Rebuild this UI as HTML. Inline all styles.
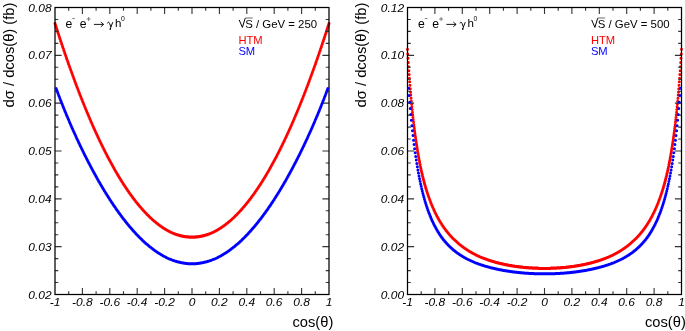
<!DOCTYPE html>
<html><head><meta charset="utf-8"><style>
html,body{margin:0;padding:0;background:#fff;}
body{width:685px;height:331px;overflow:hidden;}
svg{display:block;will-change:transform;}
text{font-family:"Liberation Sans",sans-serif;}
</style></head><body>
<svg width="685" height="331" viewBox="0 0 685 331">
<rect width="685" height="331" fill="#fff"/>
<path d="M55.00 23.41h0M55.27 24.27h0M55.55 25.13h0M55.82 25.99h0M56.10 26.85h0M56.37 27.71h0M56.64 28.57h0M56.92 29.42h0M57.19 30.27h0M57.47 31.12h0M57.74 31.97h0M58.01 32.82h0M58.29 33.66h0M58.56 34.50h0M58.84 35.34h0M59.11 36.18h0M59.38 37.02h0M59.66 37.86h0M59.93 38.69h0M60.21 39.52h0M60.48 40.35h0M60.75 41.18h0M61.03 42.01h0M61.30 42.83h0M61.58 43.66h0M61.85 44.48h0M62.12 45.30h0M62.40 46.11h0M62.67 46.93h0M62.95 47.74h0M63.22 48.56h0M63.49 49.37h0M63.77 50.17h0M64.04 50.98h0M64.32 51.79h0M64.59 52.59h0M64.86 53.39h0M65.14 54.19h0M65.41 54.99h0M65.69 55.78h0M65.96 56.58h0M66.23 57.37h0M66.51 58.16h0M66.78 58.95h0M67.06 59.74h0M67.33 60.52h0M67.60 61.31h0M67.88 62.09h0M68.15 62.87h0M68.43 63.65h0M68.70 64.42h0M68.97 65.20h0M69.25 65.97h0M69.52 66.74h0M69.80 67.51h0M70.07 68.28h0M70.34 69.04h0M70.62 69.81h0M70.89 70.57h0M71.17 71.33h0M71.44 72.09h0M71.71 72.84h0M71.99 73.60h0M72.26 74.35h0M72.54 75.10h0M72.81 75.85h0M73.08 76.60h0M73.36 77.35h0M73.63 78.09h0M73.91 78.83h0M74.18 79.57h0M74.45 80.31h0M74.73 81.05h0M75.00 81.78h0M75.28 82.52h0M75.55 83.25h0M75.82 83.98h0M76.10 84.71h0M76.37 85.43h0M76.65 86.16h0M76.92 86.88h0M77.19 87.60h0M77.47 88.32h0M77.74 89.04h0M78.02 89.75h0M78.29 90.47h0M78.56 91.18h0M78.84 91.89h0M79.11 92.60h0M79.39 93.31h0M79.66 94.01h0M79.93 94.71h0M80.21 95.42h0M80.48 96.12h0M80.76 96.81h0M81.03 97.51h0M81.30 98.20h0M81.58 98.90h0M81.85 99.59h0M82.13 100.28h0M82.40 100.96h0M82.67 101.65h0M82.95 102.33h0M83.22 103.02h0M83.50 103.70h0M83.77 104.37h0M84.04 105.05h0M84.32 105.73h0M84.59 106.40h0M84.87 107.07h0M85.14 107.74h0M85.41 108.41h0M85.69 109.07h0M85.96 109.74h0M86.24 110.40h0M86.51 111.06h0M86.78 111.72h0M87.06 112.38h0M87.33 113.03h0M87.61 113.69h0M87.88 114.34h0M88.15 114.99h0M88.43 115.64h0M88.70 116.29h0M88.98 116.93h0M89.25 117.57h0M89.52 118.22h0M89.80 118.86h0M90.07 119.49h0M90.35 120.13h0M90.62 120.76h0M90.89 121.40h0M91.17 122.03h0M91.44 122.66h0M91.72 123.28h0M91.99 123.91h0M92.26 124.53h0M92.54 125.16h0M92.81 125.78h0M93.09 126.40h0M93.36 127.01h0M93.63 127.63h0M93.91 128.24h0M94.18 128.85h0M94.46 129.46h0M94.73 130.07h0M95.00 130.68h0M95.28 131.28h0M95.55 131.89h0M95.83 132.49h0M96.10 133.09h0M96.37 133.68h0M96.65 134.28h0M96.92 134.87h0M97.20 135.47h0M97.47 136.06h0M97.74 136.65h0M98.02 137.23h0M98.29 137.82h0M98.57 138.40h0M98.84 138.98h0M99.11 139.56h0M99.39 140.14h0M99.66 140.72h0M99.94 141.29h0M100.21 141.87h0M100.48 142.44h0M100.76 143.01h0M101.03 143.58h0M101.31 144.14h0M101.58 144.71h0M101.85 145.27h0M102.13 145.83h0M102.40 146.39h0M102.68 146.95h0M102.95 147.50h0M103.22 148.06h0M103.50 148.61h0M103.77 149.16h0M104.05 149.71h0M104.32 150.26h0M104.59 150.80h0M104.87 151.35h0M105.14 151.89h0M105.42 152.43h0M105.69 152.97h0M105.96 153.50h0M106.24 154.04h0M106.51 154.57h0M106.79 155.10h0M107.06 155.63h0M107.33 156.16h0M107.61 156.69h0M107.88 157.21h0M108.16 157.73h0M108.43 158.25h0M108.70 158.77h0M108.98 159.29h0M109.25 159.81h0M109.53 160.32h0M109.80 160.83h0M110.07 161.34h0M110.35 161.85h0M110.62 162.36h0M110.90 162.86h0M111.17 163.37h0M111.44 163.87h0M111.72 164.37h0M111.99 164.87h0M112.27 165.37h0M112.54 165.86h0M112.81 166.35h0M113.09 166.85h0M113.36 167.33h0M113.64 167.82h0M113.91 168.31h0M114.18 168.79h0M114.46 169.28h0M114.73 169.76h0M115.01 170.24h0M115.28 170.71h0M115.55 171.19h0M115.83 171.67h0M116.10 172.14h0M116.38 172.61h0M116.65 173.08h0M116.92 173.54h0M117.20 174.01h0M117.47 174.47h0M117.75 174.94h0M118.02 175.40h0M118.29 175.86h0M118.57 176.31h0M118.84 176.77h0M119.12 177.22h0M119.39 177.67h0M119.66 178.12h0M119.94 178.57h0M120.21 179.02h0M120.49 179.46h0M120.76 179.91h0M121.03 180.35h0M121.31 180.79h0M121.58 181.23h0M121.86 181.66h0M122.13 182.10h0M122.40 182.53h0M122.68 182.96h0M122.95 183.39h0M123.23 183.82h0M123.50 184.24h0M123.77 184.67h0M124.05 185.09h0M124.32 185.51h0M124.60 185.93h0M124.87 186.35h0M125.14 186.76h0M125.42 187.18h0M125.69 187.59h0M125.97 188.00h0M126.24 188.41h0M126.51 188.82h0M126.79 189.22h0M127.06 189.62h0M127.34 190.03h0M127.61 190.43h0M127.88 190.82h0M128.16 191.22h0M128.43 191.62h0M128.71 192.01h0M128.98 192.40h0M129.25 192.79h0M129.53 193.18h0M129.80 193.57h0M130.08 193.95h0M130.35 194.33h0M130.62 194.71h0M130.90 195.09h0M131.17 195.47h0M131.45 195.85h0M131.72 196.22h0M131.99 196.60h0M132.27 196.97h0M132.54 197.34h0M132.82 197.70h0M133.09 198.07h0M133.36 198.43h0M133.64 198.80h0M133.91 199.16h0M134.19 199.52h0M134.46 199.87h0M134.73 200.23h0M135.01 200.58h0M135.28 200.93h0M135.56 201.29h0M135.83 201.63h0M136.10 201.98h0M136.38 202.33h0M136.65 202.67h0M136.93 203.01h0M137.20 203.35h0M137.47 203.69h0M137.75 204.03h0M138.02 204.36h0M138.30 204.70h0M138.57 205.03h0M138.84 205.36h0M139.12 205.69h0M139.39 206.01h0M139.67 206.34h0M139.94 206.66h0M140.21 206.98h0M140.49 207.30h0M140.76 207.62h0M141.04 207.94h0M141.31 208.25h0M141.58 208.56h0M141.86 208.87h0M142.13 209.18h0M142.41 209.49h0M142.68 209.80h0M142.95 210.10h0M143.23 210.40h0M143.50 210.71h0M143.78 211.00h0M144.05 211.30h0M144.32 211.60h0M144.60 211.89h0M144.87 212.18h0M145.15 212.47h0M145.42 212.76h0M145.69 213.05h0M145.97 213.34h0M146.24 213.62h0M146.52 213.90h0M146.79 214.18h0M147.06 214.46h0M147.34 214.74h0M147.61 215.01h0M147.89 215.29h0M148.16 215.56h0M148.43 215.83h0M148.71 216.10h0M148.98 216.37h0M149.26 216.63h0M149.53 216.89h0M149.80 217.16h0M150.08 217.42h0M150.35 217.67h0M150.63 217.93h0M150.90 218.19h0M151.17 218.44h0M151.45 218.69h0M151.72 218.94h0M152.00 219.19h0M152.27 219.44h0M152.54 219.68h0M152.82 219.92h0M153.09 220.16h0M153.37 220.40h0M153.64 220.64h0M153.91 220.88h0M154.19 221.11h0M154.46 221.35h0M154.74 221.58h0M155.01 221.81h0M155.28 222.03h0M155.56 222.26h0M155.83 222.48h0M156.11 222.71h0M156.38 222.93h0M156.65 223.15h0M156.93 223.36h0M157.20 223.58h0M157.48 223.79h0M157.75 224.01h0M158.02 224.22h0M158.30 224.43h0M158.57 224.63h0M158.85 224.84h0M159.12 225.04h0M159.39 225.25h0M159.67 225.45h0M159.94 225.65h0M160.22 225.84h0M160.49 226.04h0M160.76 226.23h0M161.04 226.42h0M161.31 226.61h0M161.59 226.80h0M161.86 226.99h0M162.13 227.18h0M162.41 227.36h0M162.68 227.54h0M162.96 227.72h0M163.23 227.90h0M163.50 228.08h0M163.78 228.25h0M164.05 228.42h0M164.33 228.60h0M164.60 228.77h0M164.87 228.93h0M165.15 229.10h0M165.42 229.27h0M165.70 229.43h0M165.97 229.59h0M166.24 229.75h0M166.52 229.91h0M166.79 230.07h0M167.07 230.22h0M167.34 230.37h0M167.61 230.52h0M167.89 230.67h0M168.16 230.82h0M168.44 230.97h0M168.71 231.11h0M168.98 231.26h0M169.26 231.40h0M169.53 231.54h0M169.81 231.68h0M170.08 231.81h0M170.35 231.95h0M170.63 232.08h0M170.90 232.21h0M171.18 232.34h0M171.45 232.47h0M171.72 232.59h0M172.00 232.72h0M172.27 232.84h0M172.55 232.96h0M172.82 233.08h0M173.09 233.20h0M173.37 233.31h0M173.64 233.43h0M173.92 233.54h0M174.19 233.65h0M174.46 233.76h0M174.74 233.87h0M175.01 233.97h0M175.29 234.08h0M175.56 234.18h0M175.83 234.28h0M176.11 234.38h0M176.38 234.48h0M176.66 234.57h0M176.93 234.66h0M177.20 234.76h0M177.48 234.85h0M177.75 234.94h0M178.03 235.02h0M178.30 235.11h0M178.57 235.19h0M178.85 235.27h0M179.12 235.35h0M179.40 235.43h0M179.67 235.51h0M179.94 235.59h0M180.22 235.66h0M180.49 235.73h0M180.77 235.80h0M181.04 235.87h0M181.31 235.94h0M181.59 236.00h0M181.86 236.06h0M182.14 236.13h0M182.41 236.19h0M182.68 236.24h0M182.96 236.30h0M183.23 236.36h0M183.51 236.41h0M183.78 236.46h0M184.05 236.51h0M184.33 236.56h0M184.60 236.61h0M184.88 236.65h0M185.15 236.69h0M185.42 236.73h0M185.70 236.77h0M185.97 236.81h0M186.25 236.85h0M186.52 236.88h0M186.79 236.92h0M187.07 236.95h0M187.34 236.98h0M187.62 237.01h0M187.89 237.03h0M188.16 237.06h0M188.44 237.08h0M188.71 237.10h0M188.99 237.12h0M189.26 237.14h0M189.53 237.15h0M189.81 237.17h0M190.08 237.18h0M190.36 237.19h0M190.63 237.20h0M190.90 237.21h0M191.18 237.21h0M191.45 237.22h0M191.73 237.22h0M192.00 237.22h0M192.27 237.22h0M192.55 237.22h0M192.82 237.21h0M193.10 237.21h0M193.37 237.20h0M193.64 237.19h0M193.92 237.18h0M194.19 237.17h0M194.47 237.15h0M194.74 237.14h0M195.01 237.12h0M195.29 237.10h0M195.56 237.08h0M195.84 237.06h0M196.11 237.03h0M196.38 237.01h0M196.66 236.98h0M196.93 236.95h0M197.21 236.92h0M197.48 236.88h0M197.75 236.85h0M198.03 236.81h0M198.30 236.77h0M198.58 236.73h0M198.85 236.69h0M199.12 236.65h0M199.40 236.61h0M199.67 236.56h0M199.95 236.51h0M200.22 236.46h0M200.49 236.41h0M200.77 236.36h0M201.04 236.30h0M201.32 236.24h0M201.59 236.19h0M201.86 236.13h0M202.14 236.06h0M202.41 236.00h0M202.69 235.94h0M202.96 235.87h0M203.23 235.80h0M203.51 235.73h0M203.78 235.66h0M204.06 235.59h0M204.33 235.51h0M204.60 235.43h0M204.88 235.35h0M205.15 235.27h0M205.43 235.19h0M205.70 235.11h0M205.97 235.02h0M206.25 234.94h0M206.52 234.85h0M206.80 234.76h0M207.07 234.66h0M207.34 234.57h0M207.62 234.48h0M207.89 234.38h0M208.17 234.28h0M208.44 234.18h0M208.71 234.08h0M208.99 233.97h0M209.26 233.87h0M209.54 233.76h0M209.81 233.65h0M210.08 233.54h0M210.36 233.43h0M210.63 233.31h0M210.91 233.20h0M211.18 233.08h0M211.45 232.96h0M211.73 232.84h0M212.00 232.72h0M212.28 232.59h0M212.55 232.47h0M212.82 232.34h0M213.10 232.21h0M213.37 232.08h0M213.65 231.95h0M213.92 231.81h0M214.19 231.68h0M214.47 231.54h0M214.74 231.40h0M215.02 231.26h0M215.29 231.11h0M215.56 230.97h0M215.84 230.82h0M216.11 230.67h0M216.39 230.52h0M216.66 230.37h0M216.93 230.22h0M217.21 230.07h0M217.48 229.91h0M217.76 229.75h0M218.03 229.59h0M218.30 229.43h0M218.58 229.27h0M218.85 229.10h0M219.13 228.93h0M219.40 228.77h0M219.67 228.60h0M219.95 228.42h0M220.22 228.25h0M220.50 228.08h0M220.77 227.90h0M221.04 227.72h0M221.32 227.54h0M221.59 227.36h0M221.87 227.18h0M222.14 226.99h0M222.41 226.80h0M222.69 226.61h0M222.96 226.42h0M223.24 226.23h0M223.51 226.04h0M223.78 225.84h0M224.06 225.65h0M224.33 225.45h0M224.61 225.25h0M224.88 225.04h0M225.15 224.84h0M225.43 224.63h0M225.70 224.43h0M225.98 224.22h0M226.25 224.01h0M226.52 223.79h0M226.80 223.58h0M227.07 223.36h0M227.35 223.15h0M227.62 222.93h0M227.89 222.71h0M228.17 222.48h0M228.44 222.26h0M228.72 222.03h0M228.99 221.81h0M229.26 221.58h0M229.54 221.35h0M229.81 221.11h0M230.09 220.88h0M230.36 220.64h0M230.63 220.40h0M230.91 220.16h0M231.18 219.92h0M231.46 219.68h0M231.73 219.44h0M232.00 219.19h0M232.28 218.94h0M232.55 218.69h0M232.83 218.44h0M233.10 218.19h0M233.37 217.93h0M233.65 217.67h0M233.92 217.42h0M234.20 217.16h0M234.47 216.89h0M234.74 216.63h0M235.02 216.37h0M235.29 216.10h0M235.57 215.83h0M235.84 215.56h0M236.11 215.29h0M236.39 215.01h0M236.66 214.74h0M236.94 214.46h0M237.21 214.18h0M237.48 213.90h0M237.76 213.62h0M238.03 213.34h0M238.31 213.05h0M238.58 212.76h0M238.85 212.47h0M239.13 212.18h0M239.40 211.89h0M239.68 211.60h0M239.95 211.30h0M240.22 211.00h0M240.50 210.71h0M240.77 210.40h0M241.05 210.10h0M241.32 209.80h0M241.59 209.49h0M241.87 209.18h0M242.14 208.87h0M242.42 208.56h0M242.69 208.25h0M242.96 207.94h0M243.24 207.62h0M243.51 207.30h0M243.79 206.98h0M244.06 206.66h0M244.33 206.34h0M244.61 206.01h0M244.88 205.69h0M245.16 205.36h0M245.43 205.03h0M245.70 204.70h0M245.98 204.36h0M246.25 204.03h0M246.53 203.69h0M246.80 203.35h0M247.07 203.01h0M247.35 202.67h0M247.62 202.33h0M247.90 201.98h0M248.17 201.63h0M248.44 201.29h0M248.72 200.93h0M248.99 200.58h0M249.27 200.23h0M249.54 199.87h0M249.81 199.52h0M250.09 199.16h0M250.36 198.80h0M250.64 198.43h0M250.91 198.07h0M251.18 197.70h0M251.46 197.34h0M251.73 196.97h0M252.01 196.60h0M252.28 196.22h0M252.55 195.85h0M252.83 195.47h0M253.10 195.09h0M253.38 194.71h0M253.65 194.33h0M253.92 193.95h0M254.20 193.57h0M254.47 193.18h0M254.75 192.79h0M255.02 192.40h0M255.29 192.01h0M255.57 191.62h0M255.84 191.22h0M256.12 190.82h0M256.39 190.43h0M256.66 190.03h0M256.94 189.62h0M257.21 189.22h0M257.49 188.82h0M257.76 188.41h0M258.03 188.00h0M258.31 187.59h0M258.58 187.18h0M258.86 186.76h0M259.13 186.35h0M259.40 185.93h0M259.68 185.51h0M259.95 185.09h0M260.23 184.67h0M260.50 184.24h0M260.77 183.82h0M261.05 183.39h0M261.32 182.96h0M261.60 182.53h0M261.87 182.10h0M262.14 181.66h0M262.42 181.23h0M262.69 180.79h0M262.97 180.35h0M263.24 179.91h0M263.51 179.46h0M263.79 179.02h0M264.06 178.57h0M264.34 178.12h0M264.61 177.67h0M264.88 177.22h0M265.16 176.77h0M265.43 176.31h0M265.71 175.86h0M265.98 175.40h0M266.25 174.94h0M266.53 174.47h0M266.80 174.01h0M267.08 173.54h0M267.35 173.08h0M267.62 172.61h0M267.90 172.14h0M268.17 171.67h0M268.45 171.19h0M268.72 170.71h0M268.99 170.24h0M269.27 169.76h0M269.54 169.28h0M269.82 168.79h0M270.09 168.31h0M270.36 167.82h0M270.64 167.33h0M270.91 166.85h0M271.19 166.35h0M271.46 165.86h0M271.73 165.37h0M272.01 164.87h0M272.28 164.37h0M272.56 163.87h0M272.83 163.37h0M273.10 162.86h0M273.38 162.36h0M273.65 161.85h0M273.93 161.34h0M274.20 160.83h0M274.47 160.32h0M274.75 159.81h0M275.02 159.29h0M275.30 158.77h0M275.57 158.25h0M275.84 157.73h0M276.12 157.21h0M276.39 156.69h0M276.67 156.16h0M276.94 155.63h0M277.21 155.10h0M277.49 154.57h0M277.76 154.04h0M278.04 153.50h0M278.31 152.97h0M278.58 152.43h0M278.86 151.89h0M279.13 151.35h0M279.41 150.80h0M279.68 150.26h0M279.95 149.71h0M280.23 149.16h0M280.50 148.61h0M280.78 148.06h0M281.05 147.50h0M281.32 146.95h0M281.60 146.39h0M281.87 145.83h0M282.15 145.27h0M282.42 144.71h0M282.69 144.14h0M282.97 143.58h0M283.24 143.01h0M283.52 142.44h0M283.79 141.87h0M284.06 141.29h0M284.34 140.72h0M284.61 140.14h0M284.89 139.56h0M285.16 138.98h0M285.43 138.40h0M285.71 137.82h0M285.98 137.23h0M286.26 136.65h0M286.53 136.06h0M286.80 135.47h0M287.08 134.87h0M287.35 134.28h0M287.63 133.68h0M287.90 133.09h0M288.17 132.49h0M288.45 131.89h0M288.72 131.28h0M289.00 130.68h0M289.27 130.07h0M289.54 129.46h0M289.82 128.85h0M290.09 128.24h0M290.37 127.63h0M290.64 127.01h0M290.91 126.40h0M291.19 125.78h0M291.46 125.16h0M291.74 124.53h0M292.01 123.91h0M292.28 123.28h0M292.56 122.66h0M292.83 122.03h0M293.11 121.40h0M293.38 120.76h0M293.65 120.13h0M293.93 119.49h0M294.20 118.86h0M294.48 118.22h0M294.75 117.57h0M295.02 116.93h0M295.30 116.29h0M295.57 115.64h0M295.85 114.99h0M296.12 114.34h0M296.39 113.69h0M296.67 113.03h0M296.94 112.38h0M297.22 111.72h0M297.49 111.06h0M297.76 110.40h0M298.04 109.74h0M298.31 109.07h0M298.59 108.41h0M298.86 107.74h0M299.13 107.07h0M299.41 106.40h0M299.68 105.73h0M299.96 105.05h0M300.23 104.37h0M300.50 103.70h0M300.78 103.02h0M301.05 102.33h0M301.33 101.65h0M301.60 100.96h0M301.87 100.28h0M302.15 99.59h0M302.42 98.90h0M302.70 98.20h0M302.97 97.51h0M303.24 96.81h0M303.52 96.12h0M303.79 95.42h0M304.07 94.71h0M304.34 94.01h0M304.61 93.31h0M304.89 92.60h0M305.16 91.89h0M305.44 91.18h0M305.71 90.47h0M305.98 89.75h0M306.26 89.04h0M306.53 88.32h0M306.81 87.60h0M307.08 86.88h0M307.35 86.16h0M307.63 85.43h0M307.90 84.71h0M308.18 83.98h0M308.45 83.25h0M308.72 82.52h0M309.00 81.78h0M309.27 81.05h0M309.55 80.31h0M309.82 79.57h0M310.09 78.83h0M310.37 78.09h0M310.64 77.35h0M310.92 76.60h0M311.19 75.85h0M311.46 75.10h0M311.74 74.35h0M312.01 73.60h0M312.29 72.84h0M312.56 72.09h0M312.83 71.33h0M313.11 70.57h0M313.38 69.81h0M313.66 69.04h0M313.93 68.28h0M314.20 67.51h0M314.48 66.74h0M314.75 65.97h0M315.03 65.20h0M315.30 64.42h0M315.57 63.65h0M315.85 62.87h0M316.12 62.09h0M316.40 61.31h0M316.67 60.52h0M316.94 59.74h0M317.22 58.95h0M317.49 58.16h0M317.77 57.37h0M318.04 56.58h0M318.31 55.78h0M318.59 54.99h0M318.86 54.19h0M319.14 53.39h0M319.41 52.59h0M319.68 51.79h0M319.96 50.98h0M320.23 50.17h0M320.51 49.37h0M320.78 48.56h0M321.05 47.74h0M321.33 46.93h0M321.60 46.11h0M321.88 45.30h0M322.15 44.48h0M322.42 43.66h0M322.70 42.83h0M322.97 42.01h0M323.25 41.18h0M323.52 40.35h0M323.79 39.52h0M324.07 38.69h0M324.34 37.86h0M324.62 37.02h0M324.89 36.18h0M325.16 35.34h0M325.44 34.50h0M325.71 33.66h0M325.99 32.82h0M326.26 31.97h0M326.53 31.12h0M326.81 30.27h0M327.08 29.42h0M327.36 28.57h0M327.63 27.71h0M327.90 26.85h0M328.18 25.99h0M328.45 25.13h0M328.73 24.27h0M329.00 23.41h0" stroke="#ff0000" stroke-width="3.0" stroke-linecap="round" fill="none"/>
<path d="M68.70 294.50v-3.3M68.70 7.50v3.3M82.40 294.50v-6.6M82.40 7.50v6.6M96.10 294.50v-3.3M96.10 7.50v3.3M109.80 294.50v-6.6M109.80 7.50v6.6M123.50 294.50v-3.3M123.50 7.50v3.3M137.20 294.50v-6.6M137.20 7.50v6.6M150.90 294.50v-3.3M150.90 7.50v3.3M164.60 294.50v-6.6M164.60 7.50v6.6M178.30 294.50v-3.3M178.30 7.50v3.3M192.00 294.50v-6.6M192.00 7.50v6.6M205.70 294.50v-3.3M205.70 7.50v3.3M219.40 294.50v-6.6M219.40 7.50v6.6M233.10 294.50v-3.3M233.10 7.50v3.3M246.80 294.50v-6.6M246.80 7.50v6.6M260.50 294.50v-3.3M260.50 7.50v3.3M274.20 294.50v-6.6M274.20 7.50v6.6M287.90 294.50v-3.3M287.90 7.50v3.3M301.60 294.50v-6.6M301.60 7.50v6.6M315.30 294.50v-3.3M315.30 7.50v3.3M55.00 282.54h3.3M329.00 282.54h-3.3M55.00 270.58h3.3M329.00 270.58h-3.3M55.00 258.62h3.3M329.00 258.62h-3.3M55.00 246.67h6.6M329.00 246.67h-6.6M55.00 234.71h3.3M329.00 234.71h-3.3M55.00 222.75h3.3M329.00 222.75h-3.3M55.00 210.79h3.3M329.00 210.79h-3.3M55.00 198.83h6.6M329.00 198.83h-6.6M55.00 186.88h3.3M329.00 186.88h-3.3M55.00 174.92h3.3M329.00 174.92h-3.3M55.00 162.96h3.3M329.00 162.96h-3.3M55.00 151.00h6.6M329.00 151.00h-6.6M55.00 139.04h3.3M329.00 139.04h-3.3M55.00 127.08h3.3M329.00 127.08h-3.3M55.00 115.13h3.3M329.00 115.13h-3.3M55.00 103.17h6.6M329.00 103.17h-6.6M55.00 91.21h3.3M329.00 91.21h-3.3M55.00 79.25h3.3M329.00 79.25h-3.3M55.00 67.29h3.3M329.00 67.29h-3.3M55.00 55.33h6.6M329.00 55.33h-6.6M55.00 43.38h3.3M329.00 43.38h-3.3M55.00 31.42h3.3M329.00 31.42h-3.3M55.00 19.46h3.3M329.00 19.46h-3.3" stroke="#333" stroke-width="1.1" fill="none"/>
<rect x="55.0" y="7.5" width="274.00" height="287.00" fill="none" stroke="#000" stroke-width="1.25"/>
<path d="M56.10 88.39h0M56.64 89.87h0M57.19 91.34h0M57.74 92.79h0M58.29 94.24h0M58.84 95.68h0M59.38 97.10h0M59.93 98.52h0M60.48 99.93h0M61.03 101.33h0M61.58 102.73h0M62.12 104.11h0M62.67 105.49h0M63.22 106.86h0M63.77 108.22h0M64.32 109.57h0M64.86 110.91h0M65.41 112.25h0M65.96 113.58h0M66.51 114.90h0M67.06 116.21h0M67.60 117.51h0M68.15 118.81h0M68.70 120.10h0M69.25 121.39h0M69.80 122.66h0M70.34 123.93h0M70.89 125.19h0M71.44 126.45h0M71.99 127.70h0M72.54 128.94h0M73.08 130.17h0M73.63 131.40h0M74.18 132.62h0M74.73 133.84h0M75.28 135.05h0M75.82 136.25h0M76.37 137.45h0M76.92 138.63h0M77.47 139.82h0M78.02 140.99h0M78.56 142.17h0M79.11 143.33h0M79.66 144.49h0M80.21 145.64h0M80.76 146.79h0M81.30 147.93h0M81.85 149.06h0M82.40 150.19h0M82.95 151.31h0M83.50 152.43h0M84.04 153.54h0M84.59 154.64h0M85.14 155.74h0M85.69 156.83h0M86.24 157.92h0M86.78 159.00h0M87.33 160.08h0M87.88 161.15h0M88.43 162.21h0M88.98 163.27h0M89.52 164.32h0M90.07 165.37h0M90.62 166.41h0M91.17 167.45h0M91.72 168.48h0M92.26 169.51h0M92.81 170.53h0M93.36 171.54h0M93.91 172.55h0M94.46 173.55h0M95.00 174.55h0M95.55 175.54h0M96.10 176.53h0M96.65 177.51h0M97.20 178.48h0M97.74 179.45h0M98.29 180.42h0M98.84 181.38h0M99.39 182.33h0M99.94 183.28h0M100.48 184.22h0M101.03 185.16h0M101.58 186.09h0M102.13 187.01h0M102.68 187.94h0M103.22 188.85h0M103.77 189.76h0M104.32 190.67h0M104.87 191.56h0M105.42 192.46h0M105.96 193.35h0M106.51 194.23h0M107.06 195.11h0M107.61 195.98h0M108.16 196.85h0M108.70 197.71h0M109.25 198.56h0M109.80 199.41h0M110.35 200.26h0M110.90 201.10h0M111.44 201.93h0M111.99 202.76h0M112.54 203.58h0M113.09 204.40h0M113.64 205.21h0M114.18 206.02h0M114.73 206.82h0M115.28 207.62h0M115.83 208.41h0M116.38 209.19h0M116.92 209.97h0M117.47 210.75h0M118.02 211.52h0M118.57 212.28h0M119.12 213.04h0M119.66 213.79h0M120.21 214.54h0M120.76 215.28h0M121.31 216.01h0M121.86 216.74h0M122.40 217.47h0M122.95 218.19h0M123.50 218.90h0M124.05 219.61h0M124.60 220.32h0M125.14 221.01h0M125.69 221.70h0M126.24 222.39h0M126.79 223.07h0M127.34 223.75h0M127.88 224.42h0M128.43 225.08h0M128.98 225.74h0M129.53 226.39h0M130.08 227.04h0M130.62 227.68h0M131.17 228.32h0M131.72 228.95h0M132.27 229.58h0M132.82 230.20h0M133.36 230.81h0M133.91 231.42h0M134.46 232.03h0M135.01 232.62h0M135.56 233.22h0M136.10 233.80h0M136.65 234.38h0M137.20 234.96h0M137.75 235.53h0M138.30 236.09h0M138.84 236.65h0M139.39 237.21h0M139.94 237.75h0M140.49 238.30h0M141.04 238.83h0M141.58 239.36h0M142.13 239.89h0M142.68 240.41h0M143.23 240.92h0M143.78 241.43h0M144.32 241.93h0M144.87 242.43h0M145.42 242.92h0M145.97 243.41h0M146.52 243.89h0M147.06 244.36h0M147.61 244.83h0M148.16 245.29h0M148.71 245.75h0M149.26 246.20h0M149.80 246.65h0M150.35 247.09h0M150.90 247.52h0M151.45 247.95h0M152.00 248.37h0M152.54 248.79h0M153.09 249.20h0M153.64 249.61h0M154.19 250.01h0M154.74 250.40h0M155.28 250.79h0M155.83 251.18h0M156.38 251.55h0M156.93 251.93h0M157.48 252.29h0M158.02 252.65h0M158.57 253.01h0M159.12 253.36h0M159.67 253.70h0M160.22 254.04h0M160.76 254.37h0M161.31 254.70h0M161.86 255.02h0M162.41 255.33h0M162.96 255.64h0M163.50 255.94h0M164.05 256.24h0M164.60 256.53h0M165.15 256.82h0M165.70 257.10h0M166.24 257.38h0M166.79 257.64h0M167.34 257.91h0M167.89 258.16h0M168.44 258.42h0M168.98 258.66h0M169.53 258.90h0M170.08 259.14h0M170.63 259.36h0M171.18 259.59h0M171.72 259.80h0M172.27 260.02h0M172.82 260.22h0M173.37 260.42h0M173.92 260.61h0M174.46 260.80h0M175.01 260.99h0M175.56 261.16h0M176.11 261.33h0M176.66 261.50h0M177.20 261.66h0M177.75 261.81h0M178.30 261.96h0M178.85 262.10h0M179.40 262.24h0M179.94 262.37h0M180.49 262.49h0M181.04 262.61h0M181.59 262.72h0M182.14 262.83h0M182.68 262.93h0M183.23 263.03h0M183.78 263.12h0M184.33 263.20h0M184.88 263.28h0M185.42 263.35h0M185.97 263.42h0M186.52 263.48h0M187.07 263.53h0M187.62 263.58h0M188.16 263.63h0M188.71 263.66h0M189.26 263.70h0M189.81 263.72h0M190.36 263.74h0M190.90 263.76h0M191.45 263.77h0M192.00 263.77h0M192.55 263.77h0M193.10 263.76h0M193.64 263.74h0M194.19 263.72h0M194.74 263.70h0M195.29 263.66h0M195.84 263.63h0M196.38 263.58h0M196.93 263.53h0M197.48 263.48h0M198.03 263.42h0M198.58 263.35h0M199.12 263.28h0M199.67 263.20h0M200.22 263.12h0M200.77 263.03h0M201.32 262.93h0M201.86 262.83h0M202.41 262.72h0M202.96 262.61h0M203.51 262.49h0M204.06 262.37h0M204.60 262.24h0M205.15 262.10h0M205.70 261.96h0M206.25 261.81h0M206.80 261.66h0M207.34 261.50h0M207.89 261.33h0M208.44 261.16h0M208.99 260.99h0M209.54 260.80h0M210.08 260.61h0M210.63 260.42h0M211.18 260.22h0M211.73 260.02h0M212.28 259.80h0M212.82 259.59h0M213.37 259.36h0M213.92 259.14h0M214.47 258.90h0M215.02 258.66h0M215.56 258.42h0M216.11 258.16h0M216.66 257.91h0M217.21 257.64h0M217.76 257.38h0M218.30 257.10h0M218.85 256.82h0M219.40 256.53h0M219.95 256.24h0M220.50 255.94h0M221.04 255.64h0M221.59 255.33h0M222.14 255.02h0M222.69 254.70h0M223.24 254.37h0M223.78 254.04h0M224.33 253.70h0M224.88 253.36h0M225.43 253.01h0M225.98 252.65h0M226.52 252.29h0M227.07 251.93h0M227.62 251.55h0M228.17 251.18h0M228.72 250.79h0M229.26 250.40h0M229.81 250.01h0M230.36 249.61h0M230.91 249.20h0M231.46 248.79h0M232.00 248.37h0M232.55 247.95h0M233.10 247.52h0M233.65 247.09h0M234.20 246.65h0M234.74 246.20h0M235.29 245.75h0M235.84 245.29h0M236.39 244.83h0M236.94 244.36h0M237.48 243.89h0M238.03 243.41h0M238.58 242.92h0M239.13 242.43h0M239.68 241.93h0M240.22 241.43h0M240.77 240.92h0M241.32 240.41h0M241.87 239.89h0M242.42 239.36h0M242.96 238.83h0M243.51 238.30h0M244.06 237.75h0M244.61 237.21h0M245.16 236.65h0M245.70 236.09h0M246.25 235.53h0M246.80 234.96h0M247.35 234.38h0M247.90 233.80h0M248.44 233.22h0M248.99 232.62h0M249.54 232.03h0M250.09 231.42h0M250.64 230.81h0M251.18 230.20h0M251.73 229.58h0M252.28 228.95h0M252.83 228.32h0M253.38 227.68h0M253.92 227.04h0M254.47 226.39h0M255.02 225.74h0M255.57 225.08h0M256.12 224.42h0M256.66 223.75h0M257.21 223.07h0M257.76 222.39h0M258.31 221.70h0M258.86 221.01h0M259.40 220.32h0M259.95 219.61h0M260.50 218.90h0M261.05 218.19h0M261.60 217.47h0M262.14 216.74h0M262.69 216.01h0M263.24 215.28h0M263.79 214.54h0M264.34 213.79h0M264.88 213.04h0M265.43 212.28h0M265.98 211.52h0M266.53 210.75h0M267.08 209.97h0M267.62 209.19h0M268.17 208.41h0M268.72 207.62h0M269.27 206.82h0M269.82 206.02h0M270.36 205.21h0M270.91 204.40h0M271.46 203.58h0M272.01 202.76h0M272.56 201.93h0M273.10 201.10h0M273.65 200.26h0M274.20 199.41h0M274.75 198.56h0M275.30 197.71h0M275.84 196.85h0M276.39 195.98h0M276.94 195.11h0M277.49 194.23h0M278.04 193.35h0M278.58 192.46h0M279.13 191.56h0M279.68 190.67h0M280.23 189.76h0M280.78 188.85h0M281.32 187.94h0M281.87 187.01h0M282.42 186.09h0M282.97 185.16h0M283.52 184.22h0M284.06 183.28h0M284.61 182.33h0M285.16 181.38h0M285.71 180.42h0M286.26 179.45h0M286.80 178.48h0M287.35 177.51h0M287.90 176.53h0M288.45 175.54h0M289.00 174.55h0M289.54 173.55h0M290.09 172.55h0M290.64 171.54h0M291.19 170.53h0M291.74 169.51h0M292.28 168.48h0M292.83 167.45h0M293.38 166.41h0M293.93 165.37h0M294.48 164.32h0M295.02 163.27h0M295.57 162.21h0M296.12 161.15h0M296.67 160.08h0M297.22 159.00h0M297.76 157.92h0M298.31 156.83h0M298.86 155.74h0M299.41 154.64h0M299.96 153.54h0M300.50 152.43h0M301.05 151.31h0M301.60 150.19h0M302.15 149.06h0M302.70 147.93h0M303.24 146.79h0M303.79 145.64h0M304.34 144.49h0M304.89 143.33h0M305.44 142.17h0M305.98 140.99h0M306.53 139.82h0M307.08 138.63h0M307.63 137.45h0M308.18 136.25h0M308.72 135.05h0M309.27 133.84h0M309.82 132.62h0M310.37 131.40h0M310.92 130.17h0M311.46 128.94h0M312.01 127.70h0M312.56 126.45h0M313.11 125.19h0M313.66 123.93h0M314.20 122.66h0M314.75 121.39h0M315.30 120.10h0M315.85 118.81h0M316.40 117.51h0M316.94 116.21h0M317.49 114.90h0M318.04 113.58h0M318.59 112.25h0M319.14 110.91h0M319.68 109.57h0M320.23 108.22h0M320.78 106.86h0M321.33 105.49h0M321.88 104.11h0M322.42 102.73h0M322.97 101.33h0M323.52 99.93h0M324.07 98.52h0M324.62 97.10h0M325.16 95.68h0M325.71 94.24h0M326.26 92.79h0M326.81 91.34h0M327.36 89.87h0M327.90 88.39h0" stroke="#0000ff" stroke-width="3.0" stroke-linecap="round" fill="none"/>
<g font-family="Liberation Sans" font-style="italic" font-size="12" fill="#000"><text transform="translate(55.00,306.0) scale(1,0.98)" text-anchor="middle">-1</text><text transform="translate(82.40,306.0) scale(1,0.98)" text-anchor="middle">-0.8</text><text transform="translate(109.80,306.0) scale(1,0.98)" text-anchor="middle">-0.6</text><text transform="translate(137.20,306.0) scale(1,0.98)" text-anchor="middle">-0.4</text><text transform="translate(164.60,306.0) scale(1,0.98)" text-anchor="middle">-0.2</text><text transform="translate(192.00,306.0) scale(1,0.98)" text-anchor="middle">0</text><text transform="translate(219.40,306.0) scale(1,0.98)" text-anchor="middle">0.2</text><text transform="translate(246.80,306.0) scale(1,0.98)" text-anchor="middle">0.4</text><text transform="translate(274.20,306.0) scale(1,0.98)" text-anchor="middle">0.6</text><text transform="translate(301.60,306.0) scale(1,0.98)" text-anchor="middle">0.8</text><text transform="translate(329.00,306.0) scale(1,0.98)" text-anchor="middle">1</text><text transform="translate(51.60,298.50) scale(1,0.98)" text-anchor="end">0.02</text><text transform="translate(51.60,250.67) scale(1,0.98)" text-anchor="end">0.03</text><text transform="translate(51.60,202.83) scale(1,0.98)" text-anchor="end">0.04</text><text transform="translate(51.60,155.00) scale(1,0.98)" text-anchor="end">0.05</text><text transform="translate(51.60,107.17) scale(1,0.98)" text-anchor="end">0.06</text><text transform="translate(51.60,59.33) scale(1,0.98)" text-anchor="end">0.07</text><text transform="translate(51.60,11.50) scale(1,0.98)" text-anchor="end">0.08</text></g>
<text transform="translate(333.30,327.2) scale(0.95,1)" text-anchor="end" font-family="Liberation Sans" font-size="15.5">cos(θ)</text>
<text transform="translate(13.90,2.6) rotate(-90) scale(0.95,1)" text-anchor="end" font-family="Liberation Sans" font-size="15.5">dσ / dcos(θ) (fb)</text>
<g font-family="Liberation Sans" font-size="11.5" fill="#000"><text x="65.60" y="27.6" font-size="12.2">e</text><text x="79.70" y="27.6" font-size="12.2">e</text><text x="115.00" y="27.2">h</text><text x="121.00" y="20.6" font-size="6.8">0</text></g>
<path d="M72.30 18.5h2.5M86.60 19.0h4M88.60 17.0v4" stroke="#555" stroke-width="0.75" fill="none"/>
<path d="M93.90 24.4H103.60M100.80 22.0L103.60 24.4L100.80 26.8" stroke="#000" stroke-width="0.9" fill="none"/>
<path d="M107.40 23.4C107.80 21.9 108.90 21.7 109.50 23.3L110.90 27.0M112.80 22.1L110.90 27.0L110.10 29.6" stroke="#000" stroke-width="0.95" fill="none"/><ellipse cx="110.30" cy="29.0" rx="0.6" ry="0.9" fill="#000"/>
<path d="M239.20 19.9L242.40 27.4L245.20 18.2" stroke="#000" stroke-width="1" fill="none"/><path d="M245.20 18.0H252.70" stroke="#444" stroke-width="0.8" fill="none"/>
<text x="245.20" y="27.6" font-family="Liberation Sans" font-size="11.4">S / GeV = 250</text>
<text x="238.40" y="44.0" font-family="Liberation Sans" font-size="11.2" fill="#ff0000">HTM</text>
<text x="238.40" y="55.3" font-family="Liberation Sans" font-size="11.2" fill="#0000ff">SM</text>
<path d="M407.50 49.32h0M407.77 53.91h0M408.05 58.33h0M408.32 62.59h0M408.60 66.71h0M408.87 70.68h0M409.14 74.52h0M409.42 78.23h0M409.69 81.83h0M409.97 85.30h0M410.24 88.67h0M410.51 91.93h0M410.79 95.09h0M411.06 98.15h0M411.34 101.13h0M411.61 104.02h0M411.88 106.82h0M412.16 109.54h0M412.43 112.19h0M412.71 114.77h0M412.98 117.27h0M413.25 119.71h0M413.53 122.08h0M413.80 124.40h0M414.08 126.65h0M414.35 128.84h0M414.62 130.98h0M414.90 133.07h0M415.17 135.10h0M415.45 137.09h0M415.72 139.03h0M415.99 140.92h0M416.27 142.77h0M416.54 144.58h0M416.82 146.34h0M417.09 148.07h0M417.36 149.75h0M417.64 151.40h0M417.91 153.02h0M418.19 154.59h0M418.46 156.14h0M418.73 157.65h0M419.01 159.13h0M419.28 160.59h0M419.56 162.01h0M419.83 163.40h0M420.10 164.76h0M420.38 166.10h0M420.65 167.41h0M420.93 168.70h0M421.20 169.96h0M421.47 171.20h0M421.75 172.41h0M422.02 173.60h0M422.30 174.77h0M422.57 175.92h0M422.84 177.05h0M423.12 178.16h0M423.39 179.24h0M423.67 180.31h0M423.94 181.36h0M424.21 182.39h0M424.49 183.40h0M424.76 184.40h0M425.04 185.38h0M425.31 186.34h0M425.58 187.29h0M425.86 188.22h0M426.13 189.14h0M426.41 190.04h0M426.68 190.93h0M426.95 191.80h0M427.23 192.66h0M427.50 193.50h0M427.78 194.33h0M428.05 195.15h0M428.32 195.96h0M428.60 196.76h0M428.87 197.54h0M429.15 198.31h0M429.42 199.07h0M429.69 199.82h0M429.97 200.55h0M430.24 201.28h0M430.52 202.00h0M430.79 202.70h0M431.06 203.40h0M431.34 204.08h0M431.61 204.76h0M431.89 205.43h0M432.16 206.08h0M432.43 206.73h0M432.71 207.37h0M432.98 208.00h0M433.26 208.62h0M433.53 209.24h0M433.80 209.84h0M434.08 210.44h0M434.35 211.03h0M434.63 211.61h0M434.90 212.19h0M435.17 212.75h0M435.45 213.31h0M435.72 213.87h0M436.00 214.41h0M436.27 214.95h0M436.54 215.48h0M436.82 216.01h0M437.09 216.53h0M437.37 217.04h0M437.64 217.55h0M437.91 218.05h0M438.19 218.54h0M438.46 219.03h0M438.74 219.51h0M439.01 219.99h0M439.28 220.46h0M439.56 220.92h0M439.83 221.38h0M440.11 221.84h0M440.38 222.29h0M440.65 222.73h0M440.93 223.17h0M441.20 223.61h0M441.48 224.03h0M441.75 224.46h0M442.02 224.88h0M442.30 225.29h0M442.57 225.70h0M442.85 226.11h0M443.12 226.51h0M443.39 226.91h0M443.67 227.30h0M443.94 227.69h0M444.22 228.07h0M444.49 228.45h0M444.76 228.83h0M445.04 229.20h0M445.31 229.57h0M445.59 229.93h0M445.86 230.29h0M446.13 230.65h0M446.41 231.00h0M446.68 231.35h0M446.96 231.69h0M447.23 232.04h0M447.50 232.37h0M447.78 232.71h0M448.05 233.04h0M448.33 233.37h0M448.60 233.69h0M448.87 234.02h0M449.15 234.33h0M449.42 234.65h0M449.70 234.96h0M449.97 235.27h0M450.24 235.58h0M450.52 235.88h0M450.79 236.18h0M451.07 236.48h0M451.34 236.77h0M451.61 237.06h0M451.89 237.35h0M452.16 237.64h0M452.44 237.92h0M452.71 238.20h0M452.98 238.48h0M453.26 238.75h0M453.53 239.02h0M453.81 239.29h0M454.08 239.56h0M454.35 239.83h0M454.63 240.09h0M454.90 240.35h0M455.18 240.61h0M455.45 240.86h0M455.72 241.11h0M456.00 241.36h0M456.27 241.61h0M456.55 241.86h0M456.82 242.10h0M457.09 242.34h0M457.37 242.58h0M457.64 242.82h0M457.92 243.06h0M458.19 243.29h0M458.46 243.52h0M458.74 243.75h0M459.01 243.98h0M459.29 244.20h0M459.56 244.42h0M459.83 244.65h0M460.11 244.86h0M460.38 245.08h0M460.66 245.30h0M460.93 245.51h0M461.20 245.72h0M461.48 245.93h0M461.75 246.14h0M462.03 246.35h0M462.30 246.55h0M462.57 246.75h0M462.85 246.95h0M463.12 247.15h0M463.40 247.35h0M463.67 247.55h0M463.94 247.74h0M464.22 247.93h0M464.49 248.12h0M464.77 248.31h0M465.04 248.50h0M465.31 248.69h0M465.59 248.87h0M465.86 249.06h0M466.14 249.24h0M466.41 249.42h0M466.68 249.60h0M466.96 249.77h0M467.23 249.95h0M467.51 250.12h0M467.78 250.30h0M468.05 250.47h0M468.33 250.64h0M468.60 250.81h0M468.88 250.97h0M469.15 251.14h0M469.42 251.30h0M469.70 251.47h0M469.97 251.63h0M470.25 251.79h0M470.52 251.95h0M470.79 252.11h0M471.07 252.26h0M471.34 252.42h0M471.62 252.57h0M471.89 252.72h0M472.16 252.88h0M472.44 253.03h0M472.71 253.18h0M472.99 253.32h0M473.26 253.47h0M473.53 253.62h0M473.81 253.76h0M474.08 253.91h0M474.36 254.05h0M474.63 254.19h0M474.90 254.33h0M475.18 254.47h0M475.45 254.61h0M475.73 254.74h0M476.00 254.88h0M476.27 255.01h0M476.55 255.15h0M476.82 255.28h0M477.10 255.41h0M477.37 255.54h0M477.64 255.67h0M477.92 255.80h0M478.19 255.93h0M478.47 256.05h0M478.74 256.18h0M479.01 256.30h0M479.29 256.43h0M479.56 256.55h0M479.84 256.67h0M480.11 256.79h0M480.38 256.91h0M480.66 257.03h0M480.93 257.15h0M481.21 257.26h0M481.48 257.38h0M481.75 257.50h0M482.03 257.61h0M482.30 257.72h0M482.58 257.84h0M482.85 257.95h0M483.12 258.06h0M483.40 258.17h0M483.67 258.28h0M483.95 258.38h0M484.22 258.49h0M484.49 258.60h0M484.77 258.70h0M485.04 258.81h0M485.32 258.91h0M485.59 259.02h0M485.86 259.12h0M486.14 259.22h0M486.41 259.32h0M486.69 259.42h0M486.96 259.52h0M487.23 259.62h0M487.51 259.72h0M487.78 259.81h0M488.06 259.91h0M488.33 260.01h0M488.60 260.10h0M488.88 260.19h0M489.15 260.29h0M489.43 260.38h0M489.70 260.47h0M489.97 260.56h0M490.25 260.65h0M490.52 260.74h0M490.80 260.83h0M491.07 260.92h0M491.34 261.01h0M491.62 261.09h0M491.89 261.18h0M492.17 261.27h0M492.44 261.35h0M492.71 261.43h0M492.99 261.52h0M493.26 261.60h0M493.54 261.68h0M493.81 261.76h0M494.08 261.84h0M494.36 261.93h0M494.63 262.00h0M494.91 262.08h0M495.18 262.16h0M495.45 262.24h0M495.73 262.32h0M496.00 262.39h0M496.28 262.47h0M496.55 262.54h0M496.82 262.62h0M497.10 262.69h0M497.37 262.77h0M497.65 262.84h0M497.92 262.91h0M498.19 262.98h0M498.47 263.05h0M498.74 263.12h0M499.02 263.19h0M499.29 263.26h0M499.56 263.33h0M499.84 263.40h0M500.11 263.47h0M500.39 263.53h0M500.66 263.60h0M500.93 263.67h0M501.21 263.73h0M501.48 263.80h0M501.76 263.86h0M502.03 263.92h0M502.30 263.99h0M502.58 264.05h0M502.85 264.11h0M503.13 264.17h0M503.40 264.23h0M503.67 264.29h0M503.95 264.35h0M504.22 264.41h0M504.50 264.47h0M504.77 264.53h0M505.04 264.59h0M505.32 264.64h0M505.59 264.70h0M505.87 264.76h0M506.14 264.81h0M506.41 264.87h0M506.69 264.92h0M506.96 264.98h0M507.24 265.03h0M507.51 265.08h0M507.78 265.14h0M508.06 265.19h0M508.33 265.24h0M508.61 265.29h0M508.88 265.34h0M509.15 265.39h0M509.43 265.44h0M509.70 265.49h0M509.98 265.54h0M510.25 265.59h0M510.52 265.64h0M510.80 265.69h0M511.07 265.73h0M511.35 265.78h0M511.62 265.83h0M511.89 265.87h0M512.17 265.92h0M512.44 265.96h0M512.72 266.01h0M512.99 266.05h0M513.26 266.09h0M513.54 266.14h0M513.81 266.18h0M514.09 266.22h0M514.36 266.26h0M514.63 266.30h0M514.91 266.35h0M515.18 266.39h0M515.46 266.43h0M515.73 266.47h0M516.00 266.50h0M516.28 266.54h0M516.55 266.58h0M516.83 266.62h0M517.10 266.66h0M517.37 266.69h0M517.65 266.73h0M517.92 266.77h0M518.20 266.80h0M518.47 266.84h0M518.74 266.87h0M519.02 266.91h0M519.29 266.94h0M519.57 266.97h0M519.84 267.01h0M520.11 267.04h0M520.39 267.07h0M520.66 267.11h0M520.94 267.14h0M521.21 267.17h0M521.48 267.20h0M521.76 267.23h0M522.03 267.26h0M522.31 267.29h0M522.58 267.32h0M522.85 267.35h0M523.13 267.38h0M523.40 267.40h0M523.68 267.43h0M523.95 267.46h0M524.22 267.49h0M524.50 267.51h0M524.77 267.54h0M525.05 267.56h0M525.32 267.59h0M525.59 267.61h0M525.87 267.64h0M526.14 267.66h0M526.42 267.69h0M526.69 267.71h0M526.96 267.73h0M527.24 267.76h0M527.51 267.78h0M527.79 267.80h0M528.06 267.82h0M528.33 267.84h0M528.61 267.86h0M528.88 267.88h0M529.16 267.90h0M529.43 267.92h0M529.70 267.94h0M529.98 267.96h0M530.25 267.98h0M530.53 268.00h0M530.80 268.02h0M531.07 268.04h0M531.35 268.05h0M531.62 268.07h0M531.90 268.09h0M532.17 268.10h0M532.44 268.12h0M532.72 268.13h0M532.99 268.15h0M533.27 268.16h0M533.54 268.18h0M533.81 268.19h0M534.09 268.20h0M534.36 268.22h0M534.64 268.23h0M534.91 268.24h0M535.18 268.25h0M535.46 268.27h0M535.73 268.28h0M536.01 268.29h0M536.28 268.30h0M536.55 268.31h0M536.83 268.32h0M537.10 268.33h0M537.38 268.34h0M537.65 268.35h0M537.92 268.36h0M538.20 268.36h0M538.47 268.37h0M538.75 268.38h0M539.02 268.39h0M539.29 268.39h0M539.57 268.40h0M539.84 268.41h0M540.12 268.41h0M540.39 268.42h0M540.66 268.42h0M540.94 268.43h0M541.21 268.43h0M541.49 268.44h0M541.76 268.44h0M542.03 268.44h0M542.31 268.45h0M542.58 268.45h0M542.86 268.45h0M543.13 268.45h0M543.40 268.45h0M543.68 268.45h0M543.95 268.46h0M544.23 268.46h0M544.50 268.46h0M544.77 268.46h0M545.05 268.46h0M545.32 268.45h0M545.60 268.45h0M545.87 268.45h0M546.14 268.45h0M546.42 268.45h0M546.69 268.45h0M546.97 268.44h0M547.24 268.44h0M547.51 268.44h0M547.79 268.43h0M548.06 268.43h0M548.34 268.42h0M548.61 268.42h0M548.88 268.41h0M549.16 268.41h0M549.43 268.40h0M549.71 268.39h0M549.98 268.39h0M550.25 268.38h0M550.53 268.37h0M550.80 268.36h0M551.08 268.36h0M551.35 268.35h0M551.62 268.34h0M551.90 268.33h0M552.17 268.32h0M552.45 268.31h0M552.72 268.30h0M552.99 268.29h0M553.27 268.28h0M553.54 268.27h0M553.82 268.25h0M554.09 268.24h0M554.36 268.23h0M554.64 268.22h0M554.91 268.20h0M555.19 268.19h0M555.46 268.18h0M555.73 268.16h0M556.01 268.15h0M556.28 268.13h0M556.56 268.12h0M556.83 268.10h0M557.10 268.09h0M557.38 268.07h0M557.65 268.05h0M557.93 268.04h0M558.20 268.02h0M558.47 268.00h0M558.75 267.98h0M559.02 267.96h0M559.30 267.94h0M559.57 267.92h0M559.84 267.90h0M560.12 267.88h0M560.39 267.86h0M560.67 267.84h0M560.94 267.82h0M561.21 267.80h0M561.49 267.78h0M561.76 267.76h0M562.04 267.73h0M562.31 267.71h0M562.58 267.69h0M562.86 267.66h0M563.13 267.64h0M563.41 267.61h0M563.68 267.59h0M563.95 267.56h0M564.23 267.54h0M564.50 267.51h0M564.78 267.49h0M565.05 267.46h0M565.32 267.43h0M565.60 267.40h0M565.87 267.38h0M566.15 267.35h0M566.42 267.32h0M566.69 267.29h0M566.97 267.26h0M567.24 267.23h0M567.52 267.20h0M567.79 267.17h0M568.06 267.14h0M568.34 267.11h0M568.61 267.07h0M568.89 267.04h0M569.16 267.01h0M569.43 266.97h0M569.71 266.94h0M569.98 266.91h0M570.26 266.87h0M570.53 266.84h0M570.80 266.80h0M571.08 266.77h0M571.35 266.73h0M571.63 266.69h0M571.90 266.66h0M572.17 266.62h0M572.45 266.58h0M572.72 266.54h0M573.00 266.50h0M573.27 266.47h0M573.54 266.43h0M573.82 266.39h0M574.09 266.35h0M574.37 266.30h0M574.64 266.26h0M574.91 266.22h0M575.19 266.18h0M575.46 266.14h0M575.74 266.09h0M576.01 266.05h0M576.28 266.01h0M576.56 265.96h0M576.83 265.92h0M577.11 265.87h0M577.38 265.83h0M577.65 265.78h0M577.93 265.73h0M578.20 265.69h0M578.48 265.64h0M578.75 265.59h0M579.02 265.54h0M579.30 265.49h0M579.57 265.44h0M579.85 265.39h0M580.12 265.34h0M580.39 265.29h0M580.67 265.24h0M580.94 265.19h0M581.22 265.14h0M581.49 265.08h0M581.76 265.03h0M582.04 264.98h0M582.31 264.92h0M582.59 264.87h0M582.86 264.81h0M583.13 264.76h0M583.41 264.70h0M583.68 264.64h0M583.96 264.59h0M584.23 264.53h0M584.50 264.47h0M584.78 264.41h0M585.05 264.35h0M585.33 264.29h0M585.60 264.23h0M585.87 264.17h0M586.15 264.11h0M586.42 264.05h0M586.70 263.99h0M586.97 263.92h0M587.24 263.86h0M587.52 263.80h0M587.79 263.73h0M588.07 263.67h0M588.34 263.60h0M588.61 263.53h0M588.89 263.47h0M589.16 263.40h0M589.44 263.33h0M589.71 263.26h0M589.98 263.19h0M590.26 263.12h0M590.53 263.05h0M590.81 262.98h0M591.08 262.91h0M591.35 262.84h0M591.63 262.77h0M591.90 262.69h0M592.18 262.62h0M592.45 262.54h0M592.72 262.47h0M593.00 262.39h0M593.27 262.32h0M593.55 262.24h0M593.82 262.16h0M594.09 262.08h0M594.37 262.00h0M594.64 261.93h0M594.92 261.84h0M595.19 261.76h0M595.46 261.68h0M595.74 261.60h0M596.01 261.52h0M596.29 261.43h0M596.56 261.35h0M596.83 261.27h0M597.11 261.18h0M597.38 261.09h0M597.66 261.01h0M597.93 260.92h0M598.20 260.83h0M598.48 260.74h0M598.75 260.65h0M599.03 260.56h0M599.30 260.47h0M599.57 260.38h0M599.85 260.29h0M600.12 260.19h0M600.40 260.10h0M600.67 260.01h0M600.94 259.91h0M601.22 259.81h0M601.49 259.72h0M601.77 259.62h0M602.04 259.52h0M602.31 259.42h0M602.59 259.32h0M602.86 259.22h0M603.14 259.12h0M603.41 259.02h0M603.68 258.91h0M603.96 258.81h0M604.23 258.70h0M604.51 258.60h0M604.78 258.49h0M605.05 258.38h0M605.33 258.28h0M605.60 258.17h0M605.88 258.06h0M606.15 257.95h0M606.42 257.84h0M606.70 257.72h0M606.97 257.61h0M607.25 257.50h0M607.52 257.38h0M607.79 257.26h0M608.07 257.15h0M608.34 257.03h0M608.62 256.91h0M608.89 256.79h0M609.16 256.67h0M609.44 256.55h0M609.71 256.43h0M609.99 256.30h0M610.26 256.18h0M610.53 256.05h0M610.81 255.93h0M611.08 255.80h0M611.36 255.67h0M611.63 255.54h0M611.90 255.41h0M612.18 255.28h0M612.45 255.15h0M612.73 255.01h0M613.00 254.88h0M613.27 254.74h0M613.55 254.61h0M613.82 254.47h0M614.10 254.33h0M614.37 254.19h0M614.64 254.05h0M614.92 253.91h0M615.19 253.76h0M615.47 253.62h0M615.74 253.47h0M616.01 253.32h0M616.29 253.18h0M616.56 253.03h0M616.84 252.88h0M617.11 252.72h0M617.38 252.57h0M617.66 252.42h0M617.93 252.26h0M618.21 252.11h0M618.48 251.95h0M618.75 251.79h0M619.03 251.63h0M619.30 251.47h0M619.58 251.30h0M619.85 251.14h0M620.12 250.97h0M620.40 250.81h0M620.67 250.64h0M620.95 250.47h0M621.22 250.30h0M621.49 250.12h0M621.77 249.95h0M622.04 249.77h0M622.32 249.60h0M622.59 249.42h0M622.86 249.24h0M623.14 249.06h0M623.41 248.87h0M623.69 248.69h0M623.96 248.50h0M624.23 248.31h0M624.51 248.12h0M624.78 247.93h0M625.06 247.74h0M625.33 247.55h0M625.60 247.35h0M625.88 247.15h0M626.15 246.95h0M626.43 246.75h0M626.70 246.55h0M626.97 246.35h0M627.25 246.14h0M627.52 245.93h0M627.80 245.72h0M628.07 245.51h0M628.34 245.30h0M628.62 245.08h0M628.89 244.86h0M629.17 244.65h0M629.44 244.42h0M629.71 244.20h0M629.99 243.98h0M630.26 243.75h0M630.54 243.52h0M630.81 243.29h0M631.08 243.06h0M631.36 242.82h0M631.63 242.58h0M631.91 242.34h0M632.18 242.10h0M632.45 241.86h0M632.73 241.61h0M633.00 241.36h0M633.28 241.11h0M633.55 240.86h0M633.82 240.61h0M634.10 240.35h0M634.37 240.09h0M634.65 239.83h0M634.92 239.56h0M635.19 239.29h0M635.47 239.02h0M635.74 238.75h0M636.02 238.48h0M636.29 238.20h0M636.56 237.92h0M636.84 237.64h0M637.11 237.35h0M637.39 237.06h0M637.66 236.77h0M637.93 236.48h0M638.21 236.18h0M638.48 235.88h0M638.76 235.58h0M639.03 235.27h0M639.30 234.96h0M639.58 234.65h0M639.85 234.33h0M640.13 234.02h0M640.40 233.69h0M640.67 233.37h0M640.95 233.04h0M641.22 232.71h0M641.50 232.37h0M641.77 232.04h0M642.04 231.69h0M642.32 231.35h0M642.59 231.00h0M642.87 230.65h0M643.14 230.29h0M643.41 229.93h0M643.69 229.57h0M643.96 229.20h0M644.24 228.83h0M644.51 228.45h0M644.78 228.07h0M645.06 227.69h0M645.33 227.30h0M645.61 226.91h0M645.88 226.51h0M646.15 226.11h0M646.43 225.70h0M646.70 225.29h0M646.98 224.88h0M647.25 224.46h0M647.52 224.03h0M647.80 223.61h0M648.07 223.17h0M648.35 222.73h0M648.62 222.29h0M648.89 221.84h0M649.17 221.38h0M649.44 220.92h0M649.72 220.46h0M649.99 219.99h0M650.26 219.51h0M650.54 219.03h0M650.81 218.54h0M651.09 218.05h0M651.36 217.55h0M651.63 217.04h0M651.91 216.53h0M652.18 216.01h0M652.46 215.48h0M652.73 214.95h0M653.00 214.41h0M653.28 213.87h0M653.55 213.31h0M653.83 212.75h0M654.10 212.19h0M654.37 211.61h0M654.65 211.03h0M654.92 210.44h0M655.20 209.84h0M655.47 209.24h0M655.74 208.62h0M656.02 208.00h0M656.29 207.37h0M656.57 206.73h0M656.84 206.08h0M657.11 205.43h0M657.39 204.76h0M657.66 204.08h0M657.94 203.40h0M658.21 202.70h0M658.48 202.00h0M658.76 201.28h0M659.03 200.55h0M659.31 199.82h0M659.58 199.07h0M659.85 198.31h0M660.13 197.54h0M660.40 196.76h0M660.68 195.96h0M660.95 195.15h0M661.22 194.33h0M661.50 193.50h0M661.77 192.66h0M662.05 191.80h0M662.32 190.93h0M662.59 190.04h0M662.87 189.14h0M663.14 188.22h0M663.42 187.29h0M663.69 186.34h0M663.96 185.38h0M664.24 184.40h0M664.51 183.40h0M664.79 182.39h0M665.06 181.36h0M665.33 180.31h0M665.61 179.24h0M665.88 178.16h0M666.16 177.05h0M666.43 175.92h0M666.70 174.77h0M666.98 173.60h0M667.25 172.41h0M667.53 171.20h0M667.80 169.96h0M668.07 168.70h0M668.35 167.41h0M668.62 166.10h0M668.90 164.76h0M669.17 163.40h0M669.44 162.01h0M669.72 160.59h0M669.99 159.13h0M670.27 157.65h0M670.54 156.14h0M670.81 154.59h0M671.09 153.02h0M671.36 151.40h0M671.64 149.75h0M671.91 148.07h0M672.18 146.34h0M672.46 144.58h0M672.73 142.77h0M673.01 140.92h0M673.28 139.03h0M673.55 137.09h0M673.83 135.10h0M674.10 133.07h0M674.38 130.98h0M674.65 128.84h0M674.92 126.65h0M675.20 124.40h0M675.47 122.08h0M675.75 119.71h0M676.02 117.27h0M676.29 114.77h0M676.57 112.19h0M676.84 109.54h0M677.12 106.82h0M677.39 104.02h0M677.66 101.13h0M677.94 98.15h0M678.21 95.09h0M678.49 91.93h0M678.76 88.67h0M679.03 85.30h0M679.31 81.83h0M679.58 78.23h0M679.86 74.52h0M680.13 70.68h0M680.40 66.71h0M680.68 62.59h0M680.95 58.33h0M681.23 53.91h0M681.50 49.32h0" stroke="#ff0000" stroke-width="3.0" stroke-linecap="round" fill="none"/>
<path d="M421.20 294.50v-3.3M421.20 7.50v3.3M434.90 294.50v-6.6M434.90 7.50v6.6M448.60 294.50v-3.3M448.60 7.50v3.3M462.30 294.50v-6.6M462.30 7.50v6.6M476.00 294.50v-3.3M476.00 7.50v3.3M489.70 294.50v-6.6M489.70 7.50v6.6M503.40 294.50v-3.3M503.40 7.50v3.3M517.10 294.50v-6.6M517.10 7.50v6.6M530.80 294.50v-3.3M530.80 7.50v3.3M544.50 294.50v-6.6M544.50 7.50v6.6M558.20 294.50v-3.3M558.20 7.50v3.3M571.90 294.50v-6.6M571.90 7.50v6.6M585.60 294.50v-3.3M585.60 7.50v3.3M599.30 294.50v-6.6M599.30 7.50v6.6M613.00 294.50v-3.3M613.00 7.50v3.3M626.70 294.50v-6.6M626.70 7.50v6.6M640.40 294.50v-3.3M640.40 7.50v3.3M654.10 294.50v-6.6M654.10 7.50v6.6M667.80 294.50v-3.3M667.80 7.50v3.3M407.50 282.54h3.3M681.50 282.54h-3.3M407.50 270.58h3.3M681.50 270.58h-3.3M407.50 258.62h3.3M681.50 258.62h-3.3M407.50 246.67h6.6M681.50 246.67h-6.6M407.50 234.71h3.3M681.50 234.71h-3.3M407.50 222.75h3.3M681.50 222.75h-3.3M407.50 210.79h3.3M681.50 210.79h-3.3M407.50 198.83h6.6M681.50 198.83h-6.6M407.50 186.88h3.3M681.50 186.88h-3.3M407.50 174.92h3.3M681.50 174.92h-3.3M407.50 162.96h3.3M681.50 162.96h-3.3M407.50 151.00h6.6M681.50 151.00h-6.6M407.50 139.04h3.3M681.50 139.04h-3.3M407.50 127.08h3.3M681.50 127.08h-3.3M407.50 115.12h3.3M681.50 115.12h-3.3M407.50 103.17h6.6M681.50 103.17h-6.6M407.50 91.21h3.3M681.50 91.21h-3.3M407.50 79.25h3.3M681.50 79.25h-3.3M407.50 67.29h3.3M681.50 67.29h-3.3M407.50 55.33h6.6M681.50 55.33h-6.6M407.50 43.38h3.3M681.50 43.38h-3.3M407.50 31.42h3.3M681.50 31.42h-3.3M407.50 19.46h3.3M681.50 19.46h-3.3" stroke="#333" stroke-width="1.1" fill="none"/>
<rect x="407.5" y="7.5" width="274.00" height="287.00" fill="none" stroke="#000" stroke-width="1.25"/>
<path d="M408.60 88.23h0M409.14 95.42h0M409.69 102.19h0M410.24 108.57h0M410.79 114.59h0M411.34 120.28h0M411.88 125.66h0M412.43 130.77h0M412.98 135.61h0M413.53 140.20h0M414.08 144.57h0M414.62 148.73h0M415.17 152.69h0M415.72 156.47h0M416.27 160.08h0M416.82 163.52h0M417.36 166.82h0M417.91 169.97h0M418.46 172.99h0M419.01 175.88h0M419.56 178.66h0M420.10 181.32h0M420.65 183.88h0M421.20 186.33h0M421.75 188.69h0M422.30 190.97h0M422.84 193.15h0M423.39 195.26h0M423.94 197.29h0M424.49 199.25h0M425.04 201.14h0M425.58 202.96h0M426.13 204.72h0M426.68 206.42h0M427.23 208.06h0M427.78 209.65h0M428.32 211.19h0M428.87 212.67h0M429.42 214.11h0M429.97 215.51h0M430.52 216.86h0M431.06 218.17h0M431.61 219.44h0M432.16 220.67h0M432.71 221.86h0M433.26 223.02h0M433.80 224.15h0M434.35 225.24h0M434.90 226.30h0M435.45 227.33h0M436.00 228.33h0M436.54 229.31h0M437.09 230.26h0M437.64 231.18h0M438.19 232.08h0M438.74 232.95h0M439.28 233.80h0M439.83 234.63h0M440.38 235.44h0M440.93 236.23h0M441.48 237.00h0M442.02 237.74h0M442.57 238.47h0M443.12 239.19h0M443.67 239.88h0M444.22 240.56h0M444.76 241.22h0M445.31 241.86h0M445.86 242.49h0M446.41 243.11h0M446.96 243.71h0M447.50 244.30h0M448.05 244.87h0M448.60 245.43h0M449.15 245.98h0M449.70 246.52h0M450.24 247.04h0M450.79 247.56h0M451.34 248.06h0M451.89 248.55h0M452.44 249.03h0M452.98 249.50h0M453.53 249.96h0M454.08 250.42h0M454.63 250.86h0M455.18 251.29h0M455.72 251.72h0M456.27 252.13h0M456.82 252.54h0M457.37 252.94h0M457.92 253.33h0M458.46 253.71h0M459.01 254.09h0M459.56 254.46h0M460.11 254.82h0M460.66 255.18h0M461.20 255.53h0M461.75 255.87h0M462.30 256.20h0M462.85 256.53h0M463.40 256.86h0M463.94 257.17h0M464.49 257.49h0M465.04 257.79h0M465.59 258.09h0M466.14 258.39h0M466.68 258.68h0M467.23 258.96h0M467.78 259.24h0M468.33 259.52h0M468.88 259.79h0M469.42 260.06h0M469.97 260.32h0M470.52 260.57h0M471.07 260.83h0M471.62 261.07h0M472.16 261.32h0M472.71 261.56h0M473.26 261.79h0M473.81 262.03h0M474.36 262.25h0M474.90 262.48h0M475.45 262.70h0M476.00 262.92h0M476.55 263.13h0M477.10 263.34h0M477.64 263.55h0M478.19 263.75h0M478.74 263.95h0M479.29 264.15h0M479.84 264.35h0M480.38 264.54h0M480.93 264.72h0M481.48 264.91h0M482.03 265.09h0M482.58 265.27h0M483.12 265.45h0M483.67 265.62h0M484.22 265.79h0M484.77 265.96h0M485.32 266.13h0M485.86 266.29h0M486.41 266.45h0M486.96 266.61h0M487.51 266.77h0M488.06 266.92h0M488.60 267.07h0M489.15 267.22h0M489.70 267.37h0M490.25 267.51h0M490.80 267.66h0M491.34 267.80h0M491.89 267.93h0M492.44 268.07h0M492.99 268.20h0M493.54 268.33h0M494.08 268.46h0M494.63 268.59h0M495.18 268.72h0M495.73 268.84h0M496.28 268.96h0M496.82 269.08h0M497.37 269.20h0M497.92 269.32h0M498.47 269.43h0M499.02 269.54h0M499.56 269.66h0M500.11 269.76h0M500.66 269.87h0M501.21 269.98h0M501.76 270.08h0M502.30 270.18h0M502.85 270.28h0M503.40 270.38h0M503.95 270.48h0M504.50 270.57h0M505.04 270.67h0M505.59 270.76h0M506.14 270.85h0M506.69 270.94h0M507.24 271.03h0M507.78 271.11h0M508.33 271.20h0M508.88 271.28h0M509.43 271.36h0M509.98 271.44h0M510.52 271.52h0M511.07 271.60h0M511.62 271.68h0M512.17 271.75h0M512.72 271.82h0M513.26 271.89h0M513.81 271.96h0M514.36 272.03h0M514.91 272.10h0M515.46 272.17h0M516.00 272.23h0M516.55 272.29h0M517.10 272.36h0M517.65 272.42h0M518.20 272.47h0M518.74 272.53h0M519.29 272.59h0M519.84 272.64h0M520.39 272.70h0M520.94 272.75h0M521.48 272.80h0M522.03 272.85h0M522.58 272.90h0M523.13 272.95h0M523.68 272.99h0M524.22 273.04h0M524.77 273.08h0M525.32 273.13h0M525.87 273.17h0M526.42 273.21h0M526.96 273.25h0M527.51 273.28h0M528.06 273.32h0M528.61 273.35h0M529.16 273.39h0M529.70 273.42h0M530.25 273.45h0M530.80 273.48h0M531.35 273.51h0M531.90 273.54h0M532.44 273.57h0M532.99 273.59h0M533.54 273.61h0M534.09 273.64h0M534.64 273.66h0M535.18 273.68h0M535.73 273.70h0M536.28 273.72h0M536.83 273.73h0M537.38 273.75h0M537.92 273.77h0M538.47 273.78h0M539.02 273.79h0M539.57 273.80h0M540.12 273.81h0M540.66 273.82h0M541.21 273.83h0M541.76 273.83h0M542.31 273.84h0M542.86 273.84h0M543.40 273.85h0M543.95 273.85h0M544.50 273.85h0M545.05 273.85h0M545.60 273.85h0M546.14 273.84h0M546.69 273.84h0M547.24 273.83h0M547.79 273.83h0M548.34 273.82h0M548.88 273.81h0M549.43 273.80h0M549.98 273.79h0M550.53 273.78h0M551.08 273.77h0M551.62 273.75h0M552.17 273.73h0M552.72 273.72h0M553.27 273.70h0M553.82 273.68h0M554.36 273.66h0M554.91 273.64h0M555.46 273.61h0M556.01 273.59h0M556.56 273.57h0M557.10 273.54h0M557.65 273.51h0M558.20 273.48h0M558.75 273.45h0M559.30 273.42h0M559.84 273.39h0M560.39 273.35h0M560.94 273.32h0M561.49 273.28h0M562.04 273.25h0M562.58 273.21h0M563.13 273.17h0M563.68 273.13h0M564.23 273.08h0M564.78 273.04h0M565.32 272.99h0M565.87 272.95h0M566.42 272.90h0M566.97 272.85h0M567.52 272.80h0M568.06 272.75h0M568.61 272.70h0M569.16 272.64h0M569.71 272.59h0M570.26 272.53h0M570.80 272.47h0M571.35 272.42h0M571.90 272.36h0M572.45 272.29h0M573.00 272.23h0M573.54 272.17h0M574.09 272.10h0M574.64 272.03h0M575.19 271.96h0M575.74 271.89h0M576.28 271.82h0M576.83 271.75h0M577.38 271.68h0M577.93 271.60h0M578.48 271.52h0M579.02 271.44h0M579.57 271.36h0M580.12 271.28h0M580.67 271.20h0M581.22 271.11h0M581.76 271.03h0M582.31 270.94h0M582.86 270.85h0M583.41 270.76h0M583.96 270.67h0M584.50 270.57h0M585.05 270.48h0M585.60 270.38h0M586.15 270.28h0M586.70 270.18h0M587.24 270.08h0M587.79 269.98h0M588.34 269.87h0M588.89 269.76h0M589.44 269.66h0M589.98 269.54h0M590.53 269.43h0M591.08 269.32h0M591.63 269.20h0M592.18 269.08h0M592.72 268.96h0M593.27 268.84h0M593.82 268.72h0M594.37 268.59h0M594.92 268.46h0M595.46 268.33h0M596.01 268.20h0M596.56 268.07h0M597.11 267.93h0M597.66 267.80h0M598.20 267.66h0M598.75 267.51h0M599.30 267.37h0M599.85 267.22h0M600.40 267.07h0M600.94 266.92h0M601.49 266.77h0M602.04 266.61h0M602.59 266.45h0M603.14 266.29h0M603.68 266.13h0M604.23 265.96h0M604.78 265.79h0M605.33 265.62h0M605.88 265.45h0M606.42 265.27h0M606.97 265.09h0M607.52 264.91h0M608.07 264.72h0M608.62 264.54h0M609.16 264.35h0M609.71 264.15h0M610.26 263.95h0M610.81 263.75h0M611.36 263.55h0M611.90 263.34h0M612.45 263.13h0M613.00 262.92h0M613.55 262.70h0M614.10 262.48h0M614.64 262.25h0M615.19 262.03h0M615.74 261.79h0M616.29 261.56h0M616.84 261.32h0M617.38 261.07h0M617.93 260.83h0M618.48 260.57h0M619.03 260.32h0M619.58 260.06h0M620.12 259.79h0M620.67 259.52h0M621.22 259.24h0M621.77 258.96h0M622.32 258.68h0M622.86 258.39h0M623.41 258.09h0M623.96 257.79h0M624.51 257.49h0M625.06 257.17h0M625.60 256.86h0M626.15 256.53h0M626.70 256.20h0M627.25 255.87h0M627.80 255.53h0M628.34 255.18h0M628.89 254.82h0M629.44 254.46h0M629.99 254.09h0M630.54 253.71h0M631.08 253.33h0M631.63 252.94h0M632.18 252.54h0M632.73 252.13h0M633.28 251.72h0M633.82 251.29h0M634.37 250.86h0M634.92 250.42h0M635.47 249.96h0M636.02 249.50h0M636.56 249.03h0M637.11 248.55h0M637.66 248.06h0M638.21 247.56h0M638.76 247.04h0M639.30 246.52h0M639.85 245.98h0M640.40 245.43h0M640.95 244.87h0M641.50 244.30h0M642.04 243.71h0M642.59 243.11h0M643.14 242.49h0M643.69 241.86h0M644.24 241.22h0M644.78 240.56h0M645.33 239.88h0M645.88 239.19h0M646.43 238.47h0M646.98 237.74h0M647.52 237.00h0M648.07 236.23h0M648.62 235.44h0M649.17 234.63h0M649.72 233.80h0M650.26 232.95h0M650.81 232.08h0M651.36 231.18h0M651.91 230.26h0M652.46 229.31h0M653.00 228.33h0M653.55 227.33h0M654.10 226.30h0M654.65 225.24h0M655.20 224.15h0M655.74 223.02h0M656.29 221.86h0M656.84 220.67h0M657.39 219.44h0M657.94 218.17h0M658.48 216.86h0M659.03 215.51h0M659.58 214.11h0M660.13 212.67h0M660.68 211.19h0M661.22 209.65h0M661.77 208.06h0M662.32 206.42h0M662.87 204.72h0M663.42 202.96h0M663.96 201.14h0M664.51 199.25h0M665.06 197.29h0M665.61 195.26h0M666.16 193.15h0M666.70 190.97h0M667.25 188.69h0M667.80 186.33h0M668.35 183.88h0M668.90 181.32h0M669.44 178.66h0M669.99 175.88h0M670.54 172.99h0M671.09 169.97h0M671.64 166.82h0M672.18 163.52h0M672.73 160.08h0M673.28 156.47h0M673.83 152.69h0M674.38 148.73h0M674.92 144.57h0M675.47 140.20h0M676.02 135.61h0M676.57 130.77h0M677.12 125.66h0M677.66 120.28h0M678.21 114.59h0M678.76 108.57h0M679.31 102.19h0M679.86 95.42h0M680.40 88.23h0" stroke="#0000ff" stroke-width="3.0" stroke-linecap="round" fill="none"/>
<g font-family="Liberation Sans" font-style="italic" font-size="12" fill="#000"><text transform="translate(407.50,306.0) scale(1,0.98)" text-anchor="middle">-1</text><text transform="translate(434.90,306.0) scale(1,0.98)" text-anchor="middle">-0.8</text><text transform="translate(462.30,306.0) scale(1,0.98)" text-anchor="middle">-0.6</text><text transform="translate(489.70,306.0) scale(1,0.98)" text-anchor="middle">-0.4</text><text transform="translate(517.10,306.0) scale(1,0.98)" text-anchor="middle">-0.2</text><text transform="translate(544.50,306.0) scale(1,0.98)" text-anchor="middle">0</text><text transform="translate(571.90,306.0) scale(1,0.98)" text-anchor="middle">0.2</text><text transform="translate(599.30,306.0) scale(1,0.98)" text-anchor="middle">0.4</text><text transform="translate(626.70,306.0) scale(1,0.98)" text-anchor="middle">0.6</text><text transform="translate(654.10,306.0) scale(1,0.98)" text-anchor="middle">0.8</text><text transform="translate(681.50,306.0) scale(1,0.98)" text-anchor="middle">1</text><text transform="translate(404.10,298.50) scale(1,0.98)" text-anchor="end">0.00</text><text transform="translate(404.10,250.67) scale(1,0.98)" text-anchor="end">0.02</text><text transform="translate(404.10,202.83) scale(1,0.98)" text-anchor="end">0.04</text><text transform="translate(404.10,155.00) scale(1,0.98)" text-anchor="end">0.06</text><text transform="translate(404.10,107.17) scale(1,0.98)" text-anchor="end">0.08</text><text transform="translate(404.10,59.33) scale(1,0.98)" text-anchor="end">0.10</text><text transform="translate(404.10,11.50) scale(1,0.98)" text-anchor="end">0.12</text></g>
<text transform="translate(685.80,327.2) scale(0.95,1)" text-anchor="end" font-family="Liberation Sans" font-size="15.5">cos(θ)</text>
<text transform="translate(366.40,2.6) rotate(-90) scale(0.95,1)" text-anchor="end" font-family="Liberation Sans" font-size="15.5">dσ / dcos(θ) (fb)</text>
<g font-family="Liberation Sans" font-size="11.5" fill="#000"><text x="418.10" y="27.6" font-size="12.2">e</text><text x="432.20" y="27.6" font-size="12.2">e</text><text x="467.50" y="27.2">h</text><text x="473.50" y="20.6" font-size="6.8">0</text></g>
<path d="M424.80 18.5h2.5M439.10 19.0h4M441.10 17.0v4" stroke="#555" stroke-width="0.75" fill="none"/>
<path d="M446.40 24.4H456.10M453.30 22.0L456.10 24.4L453.30 26.8" stroke="#000" stroke-width="0.9" fill="none"/>
<path d="M459.90 23.4C460.30 21.9 461.40 21.7 462.00 23.3L463.40 27.0M465.30 22.1L463.40 27.0L462.60 29.6" stroke="#000" stroke-width="0.95" fill="none"/><ellipse cx="462.80" cy="29.0" rx="0.6" ry="0.9" fill="#000"/>
<path d="M591.70 19.9L594.90 27.4L597.70 18.2" stroke="#000" stroke-width="1" fill="none"/><path d="M597.70 18.0H605.20" stroke="#444" stroke-width="0.8" fill="none"/>
<text x="597.70" y="27.6" font-family="Liberation Sans" font-size="11.4">S / GeV = 500</text>
<text x="590.90" y="44.0" font-family="Liberation Sans" font-size="11.2" fill="#ff0000">HTM</text>
<text x="590.90" y="55.3" font-family="Liberation Sans" font-size="11.2" fill="#0000ff">SM</text>
</svg>
</body></html>
